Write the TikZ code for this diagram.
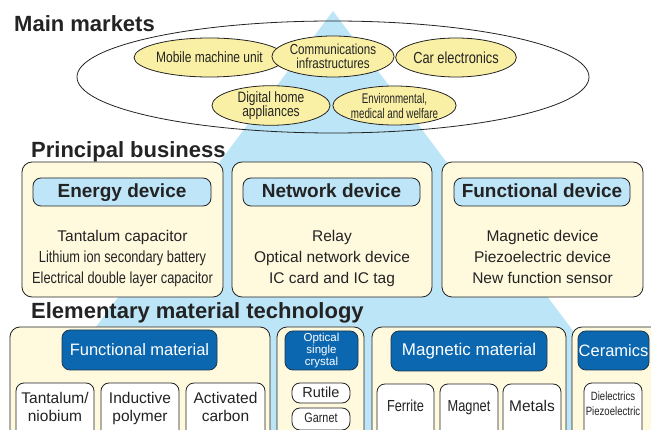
\documentclass[tikz,border=0pt]{standalone}
\usepackage{fontspec}
\setmainfont{Liberation Sans}
\newfontfamily\condensedfont[FakeStretch=0.8]{Liberation Sans}
\newfontfamily\narrowfont[FakeStretch=0.7]{Liberation Sans}
\usepackage{tikz}
\usepackage{xcolor}
\usetikzlibrary{shapes.geometric}

\definecolor{pyramidblue}{RGB}{188,229,248}
\definecolor{marketyellow}{RGB}{250,240,165}
\definecolor{panelcream}{RGB}{255,249,222}
\definecolor{headerblue}{RGB}{190,229,248}
\definecolor{materialblue}{RGB}{10,103,176}
\definecolor{inkgray}{RGB}{35,35,35}

\tikzset{
	heading/.style={anchor=base west, inner sep=0pt, text=inkgray, font=\bfseries\fontsize{22}{26}\selectfont},
	market/.style={ellipse, draw=inkgray, line width=0.8pt, fill=marketyellow, inner sep=0pt, align=center, text=inkgray},
	panel/.style={shape=rectangle, draw=inkgray, line width=0.8pt, fill=panelcream, rounded corners=10pt},
	device/.style={shape=rectangle, draw=inkgray, line width=0.8pt, fill=headerblue, rounded corners=8pt, inner sep=0pt, text height=14pt, text depth=3pt, text=inkgray, font=\bfseries\fontsize{19}{22}\selectfont},
	material/.style={shape=rectangle, draw=inkgray!70!materialblue, line width=0.8pt, fill=materialblue, rounded corners=8pt, inner sep=0pt, align=center, text=white},
	itembox/.style={shape=rectangle, draw=inkgray, line width=0.8pt, fill=white, rounded corners=8pt, inner sep=0pt},
	bodyline/.style={anchor=base, inner sep=0pt, text=inkgray, font=\fontsize{15.5}{18}\selectfont},
}

\begin{document}
\begin{tikzpicture}[x=1pt, y=-1pt]
	\useasboundingbox (0, 0) rectangle (651, 430);
	\clip (0, 0) rectangle (651, 430);
	% Pyramid, markets, business and materials:
	\fill[pyramidblue] (333, 11) -- (11, 440) -- (655, 440) -- cycle;
	\node[ellipse, draw=inkgray, line width=0.8pt, minimum width=512pt, minimum height=112pt](N1) at (333, 77){};
	\node[heading](N2) at (14, 32){Main markets};
	\node[market, minimum width=117pt, minimum height=39pt, font=\condensedfont\fontsize{15}{12}\selectfont](N3) at (209.5, 57.5){Mobile machine unit};
	\node[market, minimum width=118pt, minimum height=41pt, font=\condensedfont\fontsize{14.5}{14}\selectfont](N4) at (333, 56.5){Communications\\infrastructures};
	\node[market, minimum width=118pt, minimum height=39pt, font=\condensedfont\fontsize{16}{12}\selectfont](N5) at (456, 57.5){Car electronics};
	\node[market, minimum width=118pt, minimum height=39pt, font=\condensedfont\fontsize{15}{14}\selectfont](N6) at (271, 105.5){Digital home\\appliances};
	\node[market, minimum width=119pt, minimum height=39pt, font=\narrowfont\fontsize{14}{15}\selectfont](N7) at (394.5, 105.5){Environmental,\\medical and welfare};
	\node[heading](N8) at (31, 158){Principal business};
	\node[panel, minimum width=201pt, minimum height=135pt](N9) at (122.5, 229.5){};
	\node[panel, minimum width=200pt, minimum height=135pt](N10) at (332, 229.5){};
	\node[panel, minimum width=201pt, minimum height=135pt](N11) at (542.5, 229.5){};
	\node[device, minimum width=178pt, minimum height=28pt](N12) at (122, 192){Energy device};
	\node[device, minimum width=177pt, minimum height=28pt](N13) at (331.5, 192){Network device};
	\node[device, minimum width=176pt, minimum height=28pt](N14) at (542, 192){Functional device};
	\node[bodyline](N15) at (122.5, 242){Tantalum capacitor};
	\node[bodyline, font=\condensedfont\fontsize{16}{18}\selectfont](N16) at (122.5, 263){Lithium ion secondary battery};
	\node[bodyline, font=\condensedfont\fontsize{16}{18}\selectfont](N17) at (122.5, 284){Electrical double layer capacitor};
	\node[bodyline](N18) at (332, 242){Relay};
	\node[bodyline](N19) at (332, 263){Optical network device};
	\node[bodyline](N20) at (332, 284){IC card and IC tag};
	\node[bodyline](N21) at (542.5, 242){Magnetic device};
	\node[bodyline](N22) at (542.5, 263){Piezoelectric device};
	\node[bodyline](N23) at (542.5, 284){New function sensor};
	\node[heading](N24) at (31, 319){Elementary material technology};
	\node[panel, minimum width=260pt, minimum height=118pt](N25) at (140, 386){};
	\node[panel, minimum width=87pt, minimum height=118pt](N26) at (320.5, 386){};
	\node[panel, minimum width=194pt, minimum height=118pt](N27) at (469, 386){};
	\node[panel, minimum width=98pt, minimum height=118pt](N28) at (621, 386){};
	\node[material, minimum width=155pt, minimum height=40pt, font=\fontsize{16.5}{19}\selectfont](N29) at (139.5, 350){Functional material};
	\node[material, minimum width=73pt, minimum height=39pt, font=\fontsize{11.5}{12}\selectfont](N30) at (321.5, 350.5){Optical\\single\\crystal};
	\node[material, minimum width=156pt, minimum height=40pt, font=\fontsize{17}{19}\selectfont](N31) at (469, 351){Magnetic material};
	\node[material, minimum width=71pt, minimum height=39pt, font=\fontsize{16.5}{19}\selectfont](N32) at (613.5, 350.5){Ceramics};
	\node[itembox, minimum width=78pt, minimum height=57pt](N33) at (55, 411.5){};
	\node[itembox, minimum width=78pt, minimum height=57pt](N34) at (140, 411.5){};
	\node[itembox, minimum width=79pt, minimum height=57pt](N35) at (225.5, 411.5){};
	\node[itembox, minimum width=58pt, minimum height=20pt](N36) at (321, 393){};
	\node[itembox, minimum width=58pt, minimum height=22pt](N37) at (321, 419){};
	\node[itembox, minimum width=57pt, minimum height=56pt](N38) at (405.5, 412){};
	\node[itembox, minimum width=58pt, minimum height=56pt](N39) at (469, 412){};
	\node[itembox, minimum width=58pt, minimum height=56pt](N40) at (532, 412){};
	\node[itembox, minimum width=58pt, minimum height=57pt](N41) at (613, 411.5){};
	\node[bodyline](N42) at (55, 403){Tantalum/};
	\node[bodyline](N43) at (55, 421){niobium};
	\node[bodyline](N44) at (140, 403){Inductive};
	\node[bodyline](N45) at (140, 421){polymer};
	\node[bodyline](N46) at (225.5, 403){Activated};
	\node[bodyline](N47) at (225.5, 421){carbon};
	\node[bodyline, font=\fontsize{14.5}{16}\selectfont](N48) at (321, 397.7){Rutile};
	\node[bodyline, font=\condensedfont\fontsize{13.5}{16}\selectfont](N49) at (321, 423){Garnet};
	\node[bodyline, font=\condensedfont\fontsize{16}{18}\selectfont](N50) at (405.5, 412){Ferrite};
	\node[bodyline, font=\condensedfont\fontsize{16}{18}\selectfont](N51) at (469, 412){Magnet};
	\node[bodyline](N52) at (532, 412){Metals};
	\node[bodyline, font=\condensedfont\fontsize{12}{14}\selectfont](N53) at (613, 401){Dielectrics};
	\node[bodyline, font=\condensedfont\fontsize{12}{14}\selectfont](N54) at (613, 415.7){Piezoelectric};
\end{tikzpicture}
\end{document}
